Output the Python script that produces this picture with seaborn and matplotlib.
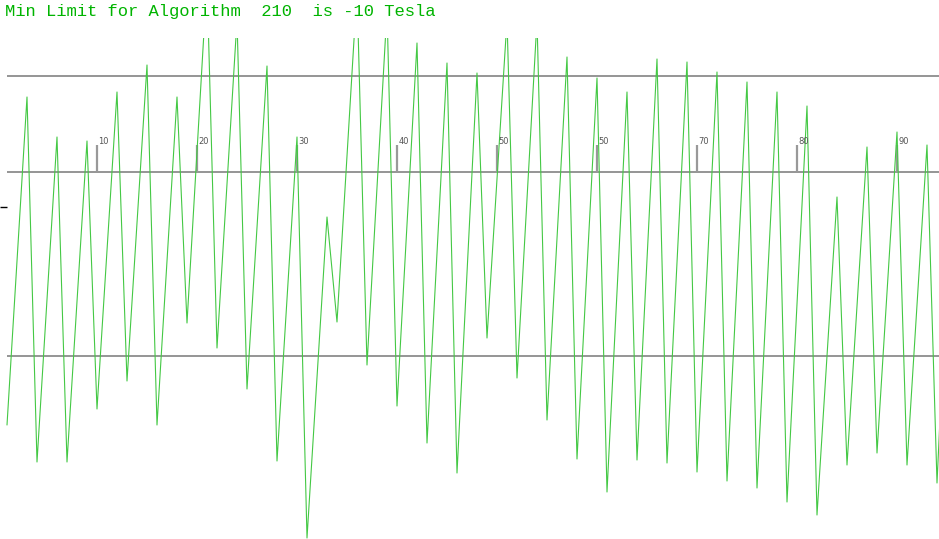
import matplotlib
matplotlib.use("Agg")
import matplotlib.pyplot as plt
import seaborn as sns

# sample index of each peak / trough of the trace
sample_idx = [1, 3, 4, 6, 7, 9, 10, 12, 13, 15, 16, 18, 19, 21, 22, 24, 25, 27, 28,
              30, 31, 33, 34, 36, 37, 39, 40, 42, 43, 45, 46, 48, 49, 51, 52, 54, 55,
              57, 58, 60, 61, 63, 64, 66, 67, 69, 70, 72, 73, 75, 76, 78, 79, 81, 82,
              84, 85, 87, 88, 90, 91, 93, 94, 95]
# field reading at those samples (arbitrary units, 0 = middle reference line)
field = [-253, 75, -290, 35, -290, 31, -237, 80, -209, 107, -253, 75, -151, 192, -176,
         152, -217, 106, -289, 35, -366, -45, -150, 182, -193, 162, -234, 129, -271,
         109, -301, 99, -166, 152, -206, 152, -248, 115, -287, 94, -320, 80, -288,
         113, -291, 110, -300, 100, -309, 90, -316, 80, -330, 66, -343, -25, -293,
         25, -281, 40, -293, 27, -311, -98]

ref_levels = [96, 0, -184]
tick_pos = [10, 20, 30, 40, 50, 60, 70, 80, 90]
tick_labels = ["10", "20", "30", "40", "50", "50", "70", "80", "90"]
title = "Min Limit for Algorithm  210  is -10 Tesla"

sns.set_style("white")
fig = plt.figure(figsize=(9.39, 5.39), dpi=100)
ax = fig.add_axes([0, 0, 1, (539 - 38) / 539])
ax.axis("off")
ax.set_xlim(0.3, 94.2)
ax.set_ylim(-367, 134)

# reference lines
ax.hlines(ref_levels, 1, 94.2, color="#8c8c8c", lw=1.3, zorder=1)
ax.hlines(-35, 0.3, 1.0, color="black", lw=1.0, clip_on=False)

# index ticks sitting on the middle line
ax.vlines(tick_pos, 0, 27, color="#999999", lw=1.6, zorder=1)
for p, lab in zip(tick_pos, tick_labels):
    ax.text(p + 0.15, 31, lab, fontsize=6, color="#555555", va="center", ha="left",
            family="DejaVu Sans")

sns.lineplot(x=sample_idx, y=field, ax=ax, color="#44c844", lw=0.8, zorder=2)

fig.text(5 / 939, 1 - 16 / 539, title, family="Liberation Mono", fontsize=12.3,
         color="#00b400", va="baseline", ha="left")

fig.savefig("out.png", dpi=100)
